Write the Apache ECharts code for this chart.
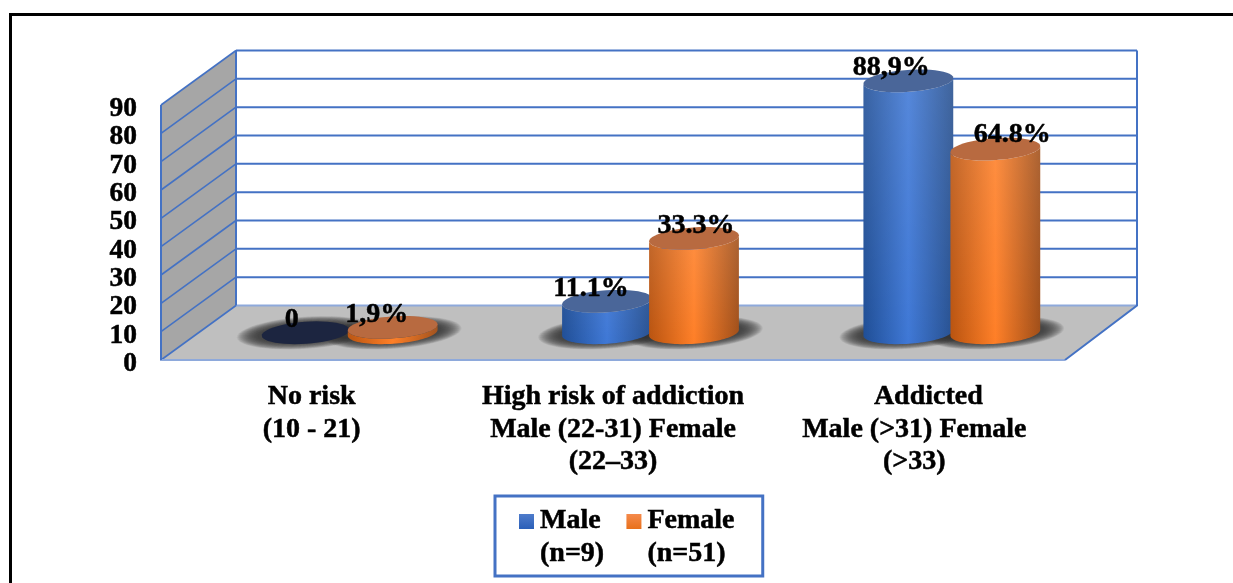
<!DOCTYPE html>
<html>
<head>
<meta charset="utf-8">
<style>html,body{margin:0;padding:0;background:#fff}#c{width:1233px;height:583px}</style>
<script src="https://cdn.jsdelivr.net/npm/echarts@6/dist/echarts.min.js"></script>
</head>
<body>
<div id="c"></div>
<script>
const categories = ['No risk\n(10 - 21)', 'High risk of addiction\nMale (22-31) Female\n(22–33)', '    Addicted\nMale (>31) Female\n(>33)'];
const maleValues = [0, 11.1, 88.9];
const femaleValues = [1.9, 33.3, 64.8];
const maleLabels = ['0', '11.1%', '88,9%'];
const femaleLabels = ['1,9%', '33.3%', '64.8%'];
const valueTicks = [0, 10, 20, 30, 40, 50, 60, 70, 80, 90];
const seriesNames = ['Male\n(n=9)', 'Female\n(n=51)'];

// label nudges relative to the top of each cylinder (as hand placed in the source)
const maleLabelShift = [[-14, -13], [-16, -13], [-17, -13]];
const femaleLabelShift = [[-16, -13], [2, -13], [17, -14]];

const FONT = '"Liberation Serif","Times New Roman",serif';
const DEPTH_L = 75, DEPTH_R = 72, DEPTH_Y = 54.5;
const BAR_RX = 45, BAR_RY = 11, TILT = 4 * Math.PI / 180, BAR_OFF = 43.5;
const LINE = '#4472c4', LINE_SOFT = '#8ea9db';
const BOLDEN = { textBorderColor: '#000', textBorderWidth: 0.5 };

function ellipsePts(cx, cy, rx, ry, from, to) {
  const pts = [], n = 48;
  for (let i = 0; i <= n; i++) {
    const a = from + (to - from) * i / n;
    const x = rx * Math.cos(a), y = ry * Math.sin(a);
    pts.push([cx + x * Math.cos(TILT) + y * Math.sin(TILT), cy - x * Math.sin(TILT) + y * Math.cos(TILT)]);
  }
  return pts;
}
function hGrad(edge, mid, edge2) {
  return new echarts.graphic.LinearGradient(0, 0, 1, 0, [
    { offset: 0, color: edge }, { offset: 0.5, color: mid }, { offset: 1, color: edge2 }]);
}
function vShade(a) {
  return new echarts.graphic.LinearGradient(0, 0, 0, 1, [
    { offset: 0, color: 'rgba(255,255,255,' + a + ')' }, { offset: 1, color: 'rgba(255,255,255,0)' }]);
}

function renderWalls(params, api) {
  const cs = params.coordSys;
  const xL = cs.x, xR = cs.x + cs.width;
  const y0 = api.coord([0, valueTicks[0]])[1];
  const yTop = api.coord([0, valueTicks[valueTicks.length - 1]])[1];
  const bxL = xL + DEPTH_L, bxR = xR + DEPTH_R;
  const kids = [];
  kids.push({ type: 'polygon', shape: { points: [[bxL, y0 - DEPTH_Y], [bxR, y0 - DEPTH_Y], [bxR, yTop - DEPTH_Y], [bxL, yTop - DEPTH_Y]] }, style: { fill: '#fff' } });
  kids.push({ type: 'polygon', shape: { points: [[xL, y0], [bxL, y0 - DEPTH_Y], [bxL, yTop - DEPTH_Y], [xL, yTop]] }, style: { fill: '#a6a6a6' } });
  kids.push({ type: 'polygon', shape: { points: [[xL, y0], [xR, y0], [bxR, y0 - DEPTH_Y], [bxL, y0 - DEPTH_Y]] }, style: { fill: '#bfbfbf' } });
  valueTicks.forEach(function (v) {
    const y = api.coord([0, v])[1];
    const soft = v === valueTicks[0];
    kids.push({ type: 'polyline', shape: { points: [[xL, y], [bxL, y - DEPTH_Y]] }, style: { stroke: LINE, lineWidth: 1.6, fill: 'none' } });
    kids.push({ type: 'polyline', shape: { points: [[bxL, y - DEPTH_Y], [bxR, y - DEPTH_Y]] }, style: { stroke: soft ? LINE_SOFT : LINE, lineWidth: 2, fill: 'none' } });
  });
  kids.push({ type: 'polyline', shape: { points: [[xL, yTop], [xL, y0], [xR, y0]] }, style: { stroke: LINE_SOFT, lineWidth: 2, fill: 'none' } });
  kids.push({ type: 'polyline', shape: { points: [[xL, yTop], [xL, y0]] }, style: { stroke: LINE, lineWidth: 2, fill: 'none' } });
  kids.push({ type: 'polyline', shape: { points: [[bxL, yTop - DEPTH_Y], [bxL, y0 - DEPTH_Y]] }, style: { stroke: LINE, lineWidth: 2, fill: 'none' } });
  kids.push({ type: 'polyline', shape: { points: [[xR, y0], [bxR, y0 - DEPTH_Y], [bxR, yTop - DEPTH_Y]] }, style: { stroke: LINE, lineWidth: 2, fill: 'none' } });
  return { type: 'group', children: kids, silent: true };
}

function base(api, side) {
  const p = api.coord([api.value(0), 0]);
  return [p[0] + DEPTH_L / 2 + side * BAR_OFF, p[1] - DEPTH_Y / 2];
}

// soft contact shadow: nested translucent ellipses that build up towards the centre
function renderShadow(params, api) {
  const b = base(api, api.value(1));
  const kids = [];
  const layers = 24;
  for (let i = 0; i < layers; i++) {
    const t = i / (layers - 1);
    kids.push({
      type: 'polygon', silent: true,
      shape: { points: ellipsePts(b[0], b[1], 69 - 21 * t, 16 - 7 * t, 0, Math.PI * 2) },
      style: { fill: 'rgba(55,55,55,0.075)' }
    });
  }
  return { type: 'group', children: kids, silent: true };
}

function cylinder(api, side, colors) {
  const b = base(api, side);
  const v = api.value(1);
  const h = api.coord([api.value(0), 0])[1] - api.coord([api.value(0), v])[1];
  if (v === 0) {
    return { type: 'polygon', shape: { points: ellipsePts(b[0], b[1], BAR_RX - 1, BAR_RY, 0, Math.PI * 2) }, style: { fill: colors.empty } };
  }
  const topY = b[1] - h;
  const bottomArc = ellipsePts(b[0], b[1], BAR_RX, BAR_RY, 0, Math.PI);
  const topArc = ellipsePts(b[0], topY, BAR_RX, BAR_RY, Math.PI, 0);
  const body = bottomArc.concat(topArc);
  return {
    type: 'group',
    children: [
      { type: 'polygon', shape: { points: body }, style: { fill: hGrad(colors.edge, colors.mid, colors.edge2) } },
      { type: 'polygon', shape: { points: body }, style: { fill: vShade(h > 40 ? 0.12 : 0.05) } },
      { type: 'polygon', shape: { points: ellipsePts(b[0], topY, BAR_RX, BAR_RY, 0, Math.PI * 2) }, style: { fill: colors.top } }
    ]
  };
}

const maleColors = { edge: '#1f4e96', mid: '#3f78d6', edge2: '#27508f', top: '#4a6699', empty: '#1c2540' };
const femaleColors = { edge: '#b9530f', mid: '#ff7f27', edge2: '#a04e18', top: '#b86a40', empty: '#1c2540' };

const shadowData = maleValues.map(function (v, i) { return [i, -1]; }).concat(femaleValues.map(function (v, i) { return [i, 1]; }));
const labelData = maleValues.map(function (v, i) { return [i, v, -1, maleLabelShift[i][0], maleLabelShift[i][1], maleLabels[i]]; })
  .concat(femaleValues.map(function (v, i) { return [i, v, 1, femaleLabelShift[i][0], femaleLabelShift[i][1], femaleLabels[i]]; }));

const chart = echarts.init(document.getElementById('c'), null, { renderer: 'canvas' });
chart.setOption({
  animation: false,
  backgroundColor: '#fff',
  graphic: [{
    type: 'polyline', z: 0, silent: true,
    shape: { points: [[10.5, 600], [10.5, 14.5], [1250, 14.5]] },
    style: { stroke: '#000', lineWidth: 3, fill: 'none' }
  }],
  grid: { left: 161, width: 904, top: 105, height: 255, containLabel: false },
  xAxis: {
    type: 'category', data: categories,
    axisLine: { show: false }, axisTick: { show: false }, splitLine: { show: false },
    axisLabel: Object.assign({ interval: 0, margin: 21, color: '#000', fontFamily: FONT, fontWeight: 'bold', fontSize: 28, lineHeight: 32.5, align: 'center', hideOverlap: false }, BOLDEN)
  },
  yAxis: {
    type: 'value', min: 0, max: 90, interval: 10,
    axisLine: { show: false }, axisTick: { show: false }, splitLine: { show: false },
    axisLabel: Object.assign({ margin: 24, color: '#000', fontFamily: FONT, fontWeight: 'bold', fontSize: 27.5, verticalAlign: 'top', lineHeight: 8, showMinLabel: true, showMaxLabel: true }, BOLDEN)
  },
  legend: {
    left: 495, top: 496, orient: 'horizontal', selectedMode: false,
    padding: [6, 28, 4, 24], itemGap: 22, itemWidth: 15, itemHeight: 46,
    borderColor: LINE, borderWidth: 3, backgroundColor: '#fff',
    textStyle: Object.assign({ color: '#000', fontFamily: FONT, fontWeight: 'bold', fontSize: 28, lineHeight: 33, padding: [4, 0, 0, 1] }, BOLDEN),
    data: [
      { name: seriesNames[0], icon: 'path://M0 0L15 0L15 15L0 15Z M0 46L15 46Z', itemStyle: { borderWidth: 0, color: new echarts.graphic.LinearGradient(0, 0, 0, 1, [{ offset: 0, color: '#4f7ccb' }, { offset: 0.33, color: '#2a5fb8' }, { offset: 1, color: '#2a5fb8' }]) } },
      { name: seriesNames[1], icon: 'path://M0 0L15 0L15 15L0 15Z M0 46L15 46Z', itemStyle: { borderWidth: 0, color: new echarts.graphic.LinearGradient(0, 0, 0, 1, [{ offset: 0, color: '#f58a4c' }, { offset: 0.33, color: '#e8701a' }, { offset: 1, color: '#e8701a' }]) } }
    ]
  },
  series: [
    { type: 'custom', z: 1, silent: true, coordinateSystem: 'cartesian2d', data: [[0, 0]], renderItem: renderWalls },
    { type: 'custom', z: 2, silent: true, coordinateSystem: 'cartesian2d', data: shadowData, renderItem: renderShadow },
    { type: 'custom', z: 3, name: seriesNames[0], coordinateSystem: 'cartesian2d', data: maleValues.map(function (v, i) { return [i, v]; }), itemStyle: { color: '#2a5fb8' },
      renderItem: function (p, api) { return cylinder(api, -1, maleColors); } },
    { type: 'custom', z: 4, name: seriesNames[1], coordinateSystem: 'cartesian2d', data: femaleValues.map(function (v, i) { return [i, v]; }), itemStyle: { color: '#e8701a' },
      renderItem: function (p, api) { return cylinder(api, 1, femaleColors); } },
    { type: 'custom', z: 5, silent: true, coordinateSystem: 'cartesian2d', data: labelData,
      dimensions: ['c', 'v', 's', 'dx', 'dy', { name: 't', type: 'ordinal' }],
      renderItem: function (p, api) {
        const d = labelData[p.dataIndex];
        const c = api.coord([d[0], d[1]]);
        return { type: 'text', style: {
          x: c[0] + DEPTH_L / 2 + d[2] * BAR_OFF + d[3],
          y: c[1] - DEPTH_Y / 2 + d[4],
          text: d[5], align: 'center', verticalAlign: 'middle',
          fill: '#000', stroke: '#000', lineWidth: 0.5, font: 'bold 28px ' + FONT } };
      } }
  ]
});
</script>
</body>
</html>
